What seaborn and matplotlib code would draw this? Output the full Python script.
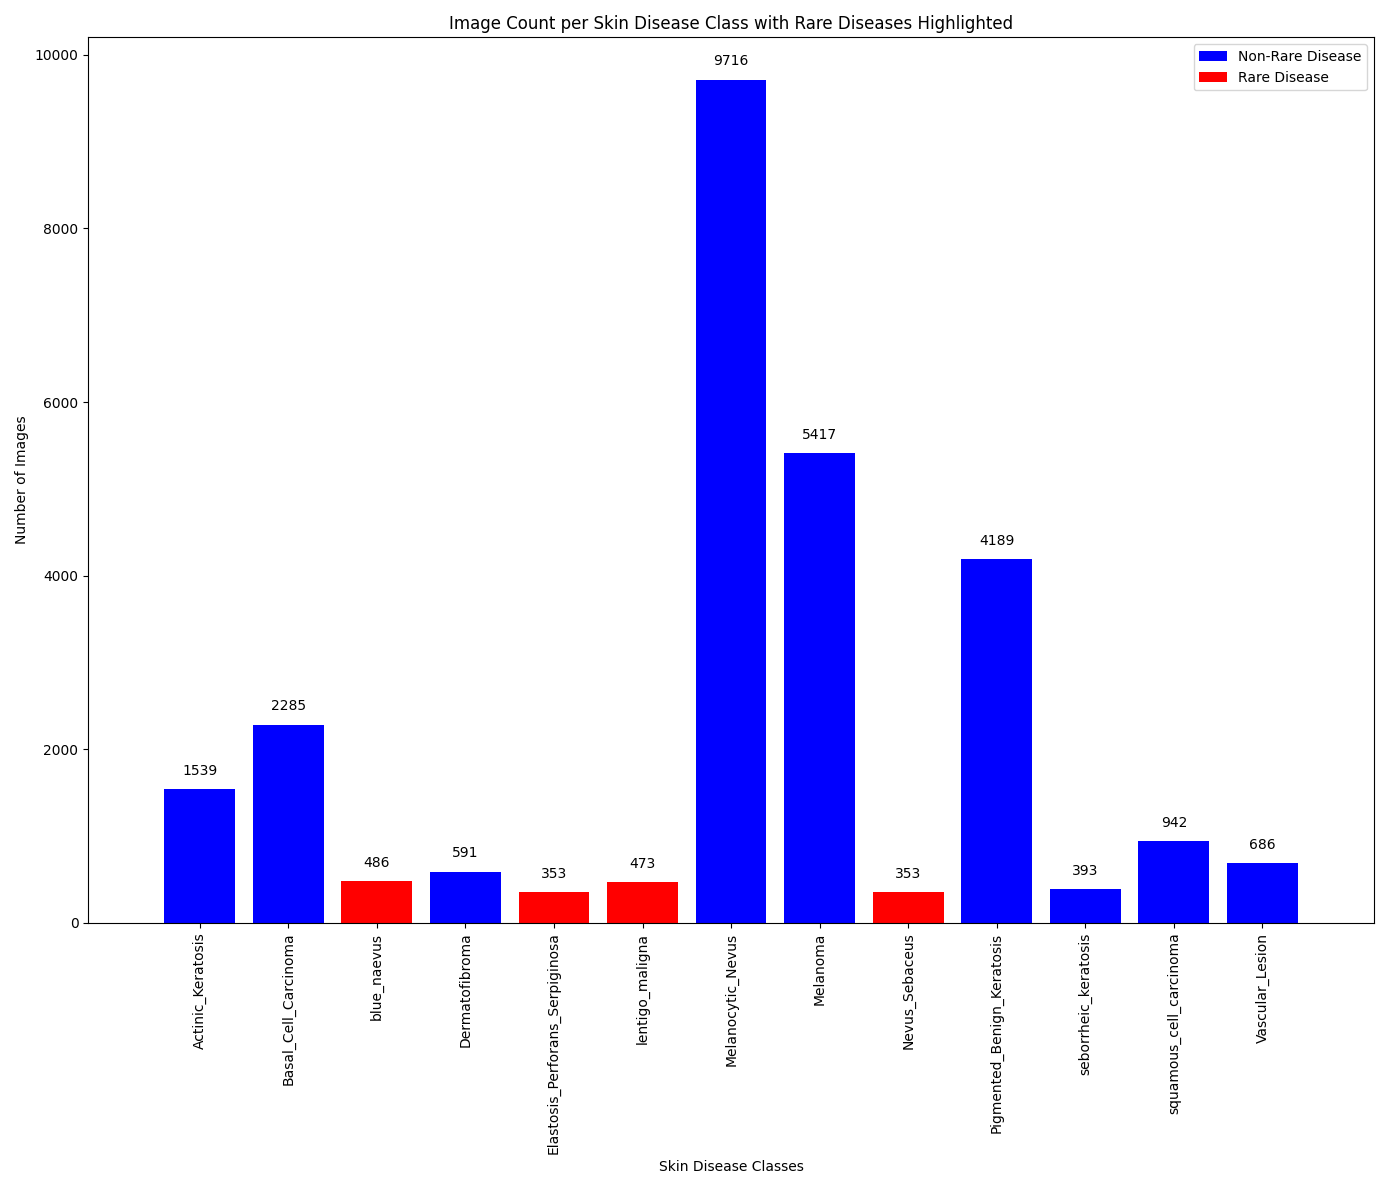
import matplotlib
matplotlib.use("Agg")
import matplotlib.pyplot as plt
import seaborn as sns
import pandas as pd

classes = ["Actinic_Keratosis", "Basal_Cell_Carcinoma", "blue_naevus", "Dermatofibroma",
           "Elastosis_Perforans_Serpiginosa", "lentigo_maligna", "Melanocytic_Nevus",
           "Melanoma", "Nevus_Sebaceus", "Pigmented_Benign_Keratosis",
           "seborrheic_keratosis", "squamous_cell_carcinoma", "Vascular_Lesion"]
counts = [1539, 2285, 486, 591, 353, 473, 9716, 5417, 353, 4189, 393, 942, 686]
rare = [False, False, True, False, True, True, False, False, True, False, False, False, False]

df = pd.DataFrame({"cls": classes, "count": counts,
                   "type": ["Rare Disease" if r else "Non-Rare Disease" for r in rare]})

fig, ax = plt.subplots(figsize=(13.89, 11.89), dpi=100)
sns.barplot(data=df, x="cls", y="count", hue="type", dodge=False,
            hue_order=["Non-Rare Disease", "Rare Disease"],
            palette={"Non-Rare Disease": "blue", "Rare Disease": "red"},
            width=0.8, saturation=1, ax=ax)
for i, c in enumerate(counts):
    ax.annotate(str(c), (i, c), xytext=(0, 8), textcoords="offset points",
                ha="center", va="bottom", fontsize=10)
ax.set_xlim(-0.5 - 0.76, len(classes) - 0.5 + 0.76)
ax.set_ylim(0, 10202)
ax.set_xlabel("Skin Disease Classes")
ax.set_ylabel("Number of Images")
ax.set_title("Image Count per Skin Disease Class with Rare Diseases Highlighted")
plt.setp(ax.get_xticklabels(), rotation=90)
ax.legend(title=None, loc="upper right")
fig.tight_layout()
fig.savefig("out.png", dpi=100)
